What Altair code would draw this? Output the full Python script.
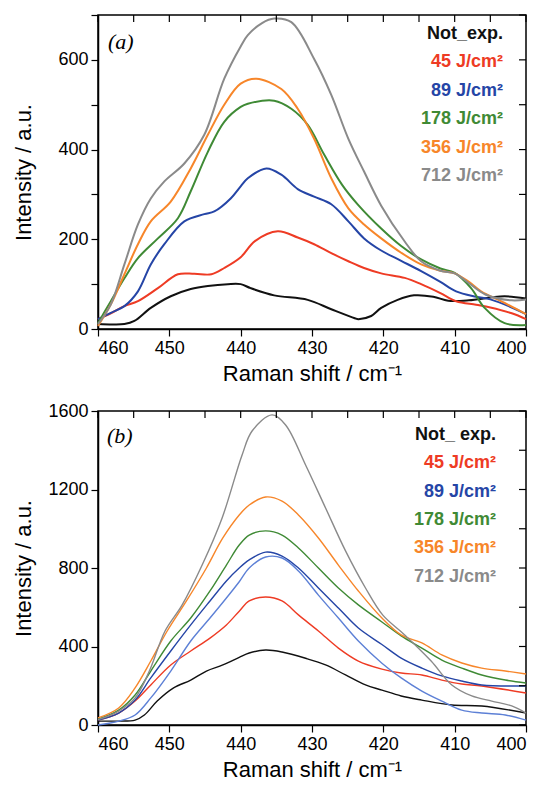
import altair as alt
import pandas as pd

# ---------------- Panel (a) ----------------
a_black_x = [460, 458, 456.3, 454.9, 452.6, 449.8, 447, 444.6, 441.8, 440, 438.6, 435.3, 430.6, 427.3, 424, 423.5, 421.7, 420.3, 418, 415.7, 413, 410.9, 408, 405, 403, 400]
a_black_y = [11, 10, 11, 18, 47, 73, 89, 96, 100, 100, 91, 75, 65, 44, 24, 22, 29, 47, 65, 75, 72, 63, 64, 70, 73, 68]

a_red_x = [460, 458.2, 456.3, 454.4, 451.6, 448.8, 446.5, 444.1, 442.3, 440, 438, 434.8, 432, 429.7, 427.3, 424.9, 422.7, 420.3, 417, 414.7, 412, 409.8, 407, 405, 402, 400]
a_red_y = [22, 35, 51, 62, 91, 122, 123, 122, 136, 160, 196, 218, 204, 189, 169, 151, 136, 124, 114, 100, 80, 62, 54, 48, 35, 22]

a_blue_x = [460, 458.2, 456.3, 454.4, 452.6, 450.7, 447.9, 445.1, 443.7, 441.4, 440, 439, 436.4, 434.3, 432, 429.7, 427.3, 424.9, 422.7, 420.3, 417.5, 414.7, 412, 409.8, 407, 405, 402, 400]
a_blue_y = [22, 36, 51, 84, 144, 189, 240, 256, 262, 291, 318, 336, 358, 344, 312, 295, 278, 240, 202, 175, 152, 129, 105, 84, 72, 66, 48, 33]

a_green_x = [460, 458.2, 456.3, 454.4, 451.6, 448.8, 447, 444.6, 442.3, 440, 439, 435.3, 432.9, 430.6, 428.3, 425.8, 423.6, 420.3, 417.5, 414.7, 412, 410, 407.7, 405.8, 403, 400]
a_green_y = [13, 62, 113, 158, 202, 247, 307, 395, 462, 495, 502, 509, 491, 455, 389, 322, 278, 224, 185, 155, 135, 125, 91, 47, 13, 9]

a_orange_x = [460, 458.2, 456.3, 454.4, 452.6, 449.8, 447, 444.6, 442.3, 440, 437.8, 434.3, 432, 429.7, 427.3, 424.9, 422.7, 420.3, 417.5, 414.7, 412, 410, 408, 406.3, 403, 400]
a_orange_y = [7, 55, 122, 189, 240, 284, 358, 433, 500, 547, 558, 535, 491, 424, 336, 269, 233, 202, 170, 144, 130, 124, 105, 84, 58, 33]

a_gray_x = [460, 458.2, 456.3, 454.4, 452.6, 450.7, 447.9, 445.1, 442.3, 440, 439, 437, 435.3, 432.9, 429.7, 427.3, 424.9, 422.7, 420.3, 417, 414.7, 412, 410, 408, 405.7, 402, 400]
a_gray_y = [11, 55, 144, 233, 291, 329, 369, 433, 558, 630, 655, 682, 692, 684, 602, 522, 424, 351, 275, 195, 151, 130, 124, 102, 77, 64, 66]

# ---------------- Panel (b) ----------------
b_black_x = [460, 457.1, 454.8, 453.5, 451.7, 449.4, 447, 444.8, 442.5, 440.2, 438.8, 436.5, 434.2, 430.9, 428.1, 425.3, 422.5, 420.2, 417.5, 414.6, 410.4, 406.2, 400]
b_black_y = [20, 20, 25, 51, 122, 189, 229, 275, 306, 345, 367, 382, 372, 340, 306, 255, 204, 178, 148, 127, 102, 97, 61]

b_red_x = [460, 457.1, 454.8, 452.6, 449.8, 447, 444.3, 442, 440.2, 438.8, 436.5, 434.2, 431.9, 429.1, 426.3, 423.5, 420.2, 417.5, 414.6, 411.8, 409, 406.2, 400]
b_red_y = [25, 61, 122, 204, 306, 377, 443, 510, 580, 632, 652, 632, 561, 479, 392, 326, 285, 265, 255, 229, 209, 199, 163]

b_blue_x = [460, 457.1, 454.8, 452.6, 449.8, 447, 444.3, 442, 440.2, 438.8, 436.5, 434.2, 431.9, 429.1, 426.3, 423.5, 420.2, 417.5, 414.6, 411.8, 409, 406.2, 400]
b_blue_y = [25, 61, 127, 240, 377, 510, 632, 734, 800, 841, 881, 861, 800, 698, 596, 494, 410, 341, 290, 250, 224, 204, 199]

b_lblue_x = [460, 457.1, 454.8, 452.6, 449.8, 447, 444.3, 442, 440.2, 438.8, 436.5, 434.2, 431.9, 429.1, 426.3, 423.5, 420.2, 417.5, 414.6, 411.8, 409, 406.2, 402.9, 400]
b_lblue_y = [0, 20, 51, 138, 275, 428, 545, 647, 730, 800, 856, 851, 785, 662, 545, 428, 315, 240, 173, 122, 76, 61, 51, 25]

b_green_x = [460, 457.1, 454.8, 452.6, 449.8, 447, 444.3, 442, 440.2, 438.8, 436.5, 434.2, 431.9, 429.1, 426.3, 423.5, 420.2, 417.5, 414.6, 411.8, 409, 406.2, 402.9, 400]
b_green_y = [30, 76, 153, 275, 428, 545, 683, 815, 917, 968, 989, 968, 902, 800, 698, 612, 525, 454, 392, 331, 290, 255, 229, 214]

b_orange_x = [460, 457.1, 454.8, 452.6, 450.3, 447.6, 444.8, 442.5, 440.2, 438.8, 436.5, 434.2, 431.9, 429.1, 426.3, 423.5, 420.2, 417.5, 414.6, 411.8, 409, 406.2, 402.9, 400]
b_orange_y = [36, 87, 189, 326, 479, 632, 800, 953, 1070, 1121, 1162, 1141, 1070, 953, 815, 683, 545, 459, 418, 357, 316, 290, 275, 260]

b_gray_x = [460, 457.1, 454.8, 452.8, 450.6, 448.2, 445.4, 442.6, 439.8, 438.4, 435.6, 433.7, 430.9, 428.1, 425.3, 422.5, 420.1, 417, 413.3, 410.4, 407.6, 404.8, 402, 400]
b_gray_y = [27, 71, 138, 275, 479, 612, 815, 1055, 1376, 1498, 1580, 1529, 1325, 1106, 887, 698, 561, 459, 326, 204, 148, 122, 97, 61]

# ---------------- labels / ticks ----------------
a_labels = ["Not_exp.", "45 J/cm²", "89 J/cm²", "178 J/cm²", "356 J/cm²", "712 J/cm²"]
b_labels = ["Not_ exp.", "45 J/cm²", "89 J/cm²", "178 J/cm²", "356 J/cm²", "712 J/cm²"]
series_names = ["Not_exp.", "45 J/cm²", "89 J/cm²", "89 J/cm² (b)", "178 J/cm²", "356 J/cm²", "712 J/cm²"]
series_colors = ["#111111", "#ee3b24", "#2545a6", "#5d80d6", "#3f8a35", "#f7862a", "#8a8a8a"]
legend_colors = ["#111111", "#ee3b24", "#2545a6", "#3f8a35", "#f7862a", "#8a8a8a"]

x_ticks = [400, 405, 410, 415, 420, 425, 430, 435, 440, 445, 450, 455, 460]
a_y_ticks = [0, 100, 200, 300, 400, 500, 600, 700]
b_y_ticks = [0, 200, 400, 600, 800, 1000, 1200, 1400, 1600]

W, H = 428, 314


def long_df(items):
    rows = []
    for name, xs, ys in items:
        for xv, yv in zip(xs, ys):
            rows.append({"series": name, "shift": xv, "intensity": yv})
    return pd.DataFrame(rows)


a_df = long_df([
    ("Not_exp.", a_black_x, a_black_y),
    ("45 J/cm²", a_red_x, a_red_y),
    ("89 J/cm²", a_blue_x, a_blue_y),
    ("178 J/cm²", a_green_x, a_green_y),
    ("356 J/cm²", a_orange_x, a_orange_y),
    ("712 J/cm²", a_gray_x, a_gray_y),
])
b_df = long_df([
    ("Not_exp.", b_black_x, b_black_y),
    ("45 J/cm²", b_red_x, b_red_y),
    ("89 J/cm²", b_blue_x, b_blue_y),
    ("89 J/cm² (b)", b_lblue_x, b_lblue_y),
    ("178 J/cm²", b_green_x, b_green_y),
    ("356 J/cm²", b_orange_x, b_orange_y),
    ("712 J/cm²", b_gray_x, b_gray_y),
])


def panel(df, ymax, yticks, ylabel_step, labels, tag, leg_x, leg_y0, leg_dy, tag_x, tag_y, sw):
    xscale = alt.Scale(domain=[400, 460], reverse=True, nice=False, zero=False)
    yscale = alt.Scale(domain=[0, ymax], nice=False)
    lines = alt.Chart(df).mark_line(interpolate="catmull-rom", strokeWidth=sw).encode(
        x=alt.X("shift:Q", scale=xscale,
                axis=alt.Axis(values=x_ticks, labelExpr="datum.value % 10 == 0 ? datum.label : ''",
                              title="Raman shift / cm⁻¹", titlePadding=6)),
        y=alt.Y("intensity:Q", scale=yscale,
                axis=alt.Axis(values=yticks, format="d",
                              labelExpr=f"datum.value % {ylabel_step} == 0 ? datum.label : ''",
                              title="Intensity / a.u.", titleX=-75, titleY=H / 2,
                              titleAngle=270, titleAlign="center", titleBaseline="middle")),
        color=alt.Color("series:N", scale=alt.Scale(domain=series_names, range=series_colors), legend=None),
        order=alt.Order("shift:Q", sort="descending"),
        detail="series:N",
    )
    top_ticks = alt.Chart(pd.DataFrame({"shift": x_ticks})).mark_rule(color="black", strokeWidth=1.2).encode(
        x=alt.X("shift:Q", scale=xscale), y=alt.value(0), y2=alt.value(7))
    right_ticks = alt.Chart(pd.DataFrame({"intensity": yticks})).mark_rule(color="black", strokeWidth=1.2).encode(
        y=alt.Y("intensity:Q", scale=yscale), x=alt.value(W), x2=alt.value(W - 7))
    layers = [lines, top_ticks, right_ticks]
    for i, (lab, col) in enumerate(zip(labels, legend_colors)):
        layers.append(
            alt.Chart(pd.DataFrame({"label": [lab]})).mark_text(
                align="right", baseline="middle", font="Liberation Sans", fontSize=18,
                fontWeight="bold", color=col).encode(
                text="label:N", x=alt.value(leg_x), y=alt.value(leg_y0 + i * leg_dy)))
    layers.append(
        alt.Chart(pd.DataFrame({"label": [tag]})).mark_text(
            align="left", baseline="middle", font="Liberation Serif", fontSize=22,
            fontStyle="italic", color="black").encode(
            text="label:N", x=alt.value(tag_x), y=alt.value(tag_y)))
    return alt.layer(*layers).properties(width=W, height=H)


top = panel(a_df, 700, a_y_ticks, 200, a_labels, "(a)", 405, 19, 28.4, 10, 27, 2.0)
bottom = panel(b_df, 1600, b_y_ticks, 400, b_labels, "(b)", 398, 24, 28.3, 9, 25, 1.4)

chart = alt.vconcat(top, bottom, spacing=16).properties(
    padding={"left": 3, "top": 5, "right": 0, "bottom": 0}
).configure_view(stroke="black", strokeWidth=1.5).configure_axis(
    grid=False, domainColor="black", domainWidth=1.5, tickColor="black", tickWidth=1.2,
    tickSize=7, labelPadding=3, labelFont="Liberation Sans", labelFontSize=18, labelColor="black",
    titleFont="Liberation Sans", titleFontSize=22, titleFontWeight="normal", titleColor="black",
)

chart.save("out.html", embed_options={"renderer": "svg", "actions": False})
